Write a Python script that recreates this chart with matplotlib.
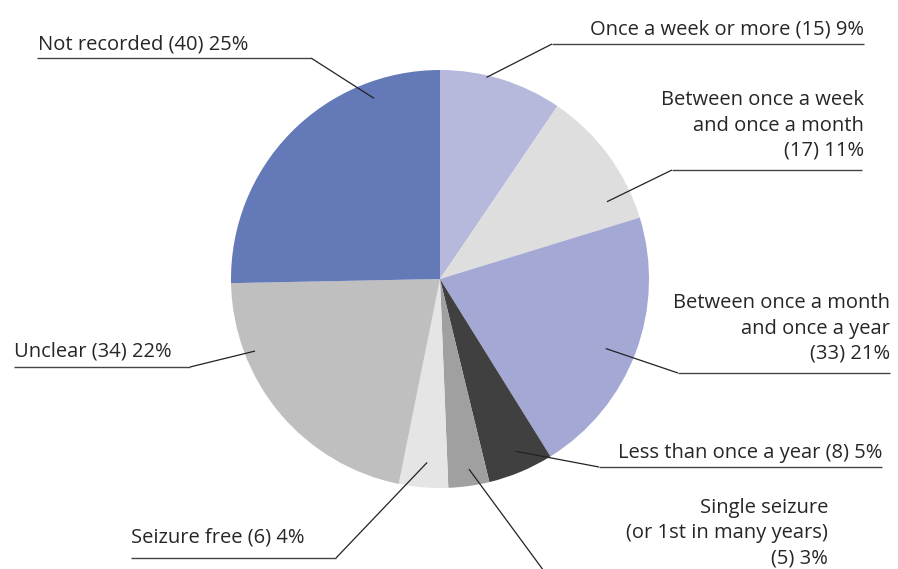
import numpy as np
import matplotlib
matplotlib.use("Agg")
import matplotlib.pyplot as plt

plt.rcParams['font.family'] = ['Open Sans', 'DejaVu Sans']

# data
labels = ["Once a week or more (15) 9%",
          "Between once a week\nand once a month\n(17) 11%",
          "Between once a month\nand once a year\n(33) 21%",
          "Less than once a year (8) 5%",
          "Single seizure\n(or 1st in many years)\n(5) 3%",
          "Seizure free (6) 4%",
          "Unclear (34) 22%",
          "Not recorded (40) 25%"]
counts = [15, 17, 33, 8, 5, 6, 34, 40]
colors = ["#b6b9dc", "#dedede", "#a4a8d4", "#404040",
          "#a0a0a0", "#e5e5e5", "#bfbfbf", "#6479b8"]

# layout (pixel coords, y from top)
W, H = 898, 569
center = (440, 279)
radius = 209
# where the leader line touches the wedge: fraction along wedge (clockwise), fraction of radius
anchor_frac = [(0.38, 0.99), (0.80, 0.88), (0.53, 0.86), (0.45, 0.90),
               (0.44, 0.92), (0.46, 0.88), (0.74, 0.95), (0.78, 0.92)]
elbows = [(552, 44), (672, 170), (678, 373), (599, 467),
          (552, 582), (336, 558), (190, 367), (311, 58)]
line_end = [864, 862, 890, 882, None, 131, 14, 37]
text_pos = [(864, 29, 'right'), (864, 125.5, 'right'), (890, 328.5, 'right'),
            (882, 453, 'right'), (828, 533, 'right'), (131, 537, 'left'),
            (14, 351, 'left'), (38, 44, 'left')]

fig = plt.figure(figsize=(W / 100, H / 100), dpi=100)
ax = fig.add_axes([0, 0, 1, 1])

wedges, _ = ax.pie(counts, colors=colors, startangle=-90, counterclock=True,
                   center=center, radius=radius,
                   wedgeprops=dict(linewidth=0))
ax.set_xlim(0, W)
ax.set_ylim(H, 0)
ax.set_aspect('auto')
ax.axis('off')

for w, (f, rf), (ex, ey), lx, (tx, ty, ha), lab in zip(
        wedges, anchor_frac, elbows, line_end, text_pos, labels):
    ang = np.deg2rad(w.theta1 + f * (w.theta2 - w.theta1))
    axp = center[0] + rf * radius * np.cos(ang)
    ayp = center[1] + rf * radius * np.sin(ang)
    ax.plot([axp, ex], [ayp, ey], color="#222222", lw=0.9, solid_capstyle='butt')
    if lx is not None:
        ax.plot([ex, lx], [ey, ey], color="#444444", lw=1.0, solid_capstyle='butt')
    ax.text(tx, ty, lab, ha=ha, va='center', multialignment=ha,
            fontsize=14.5, color="#262626", linespacing=1.36)

fig.savefig("out.png", dpi=100)
